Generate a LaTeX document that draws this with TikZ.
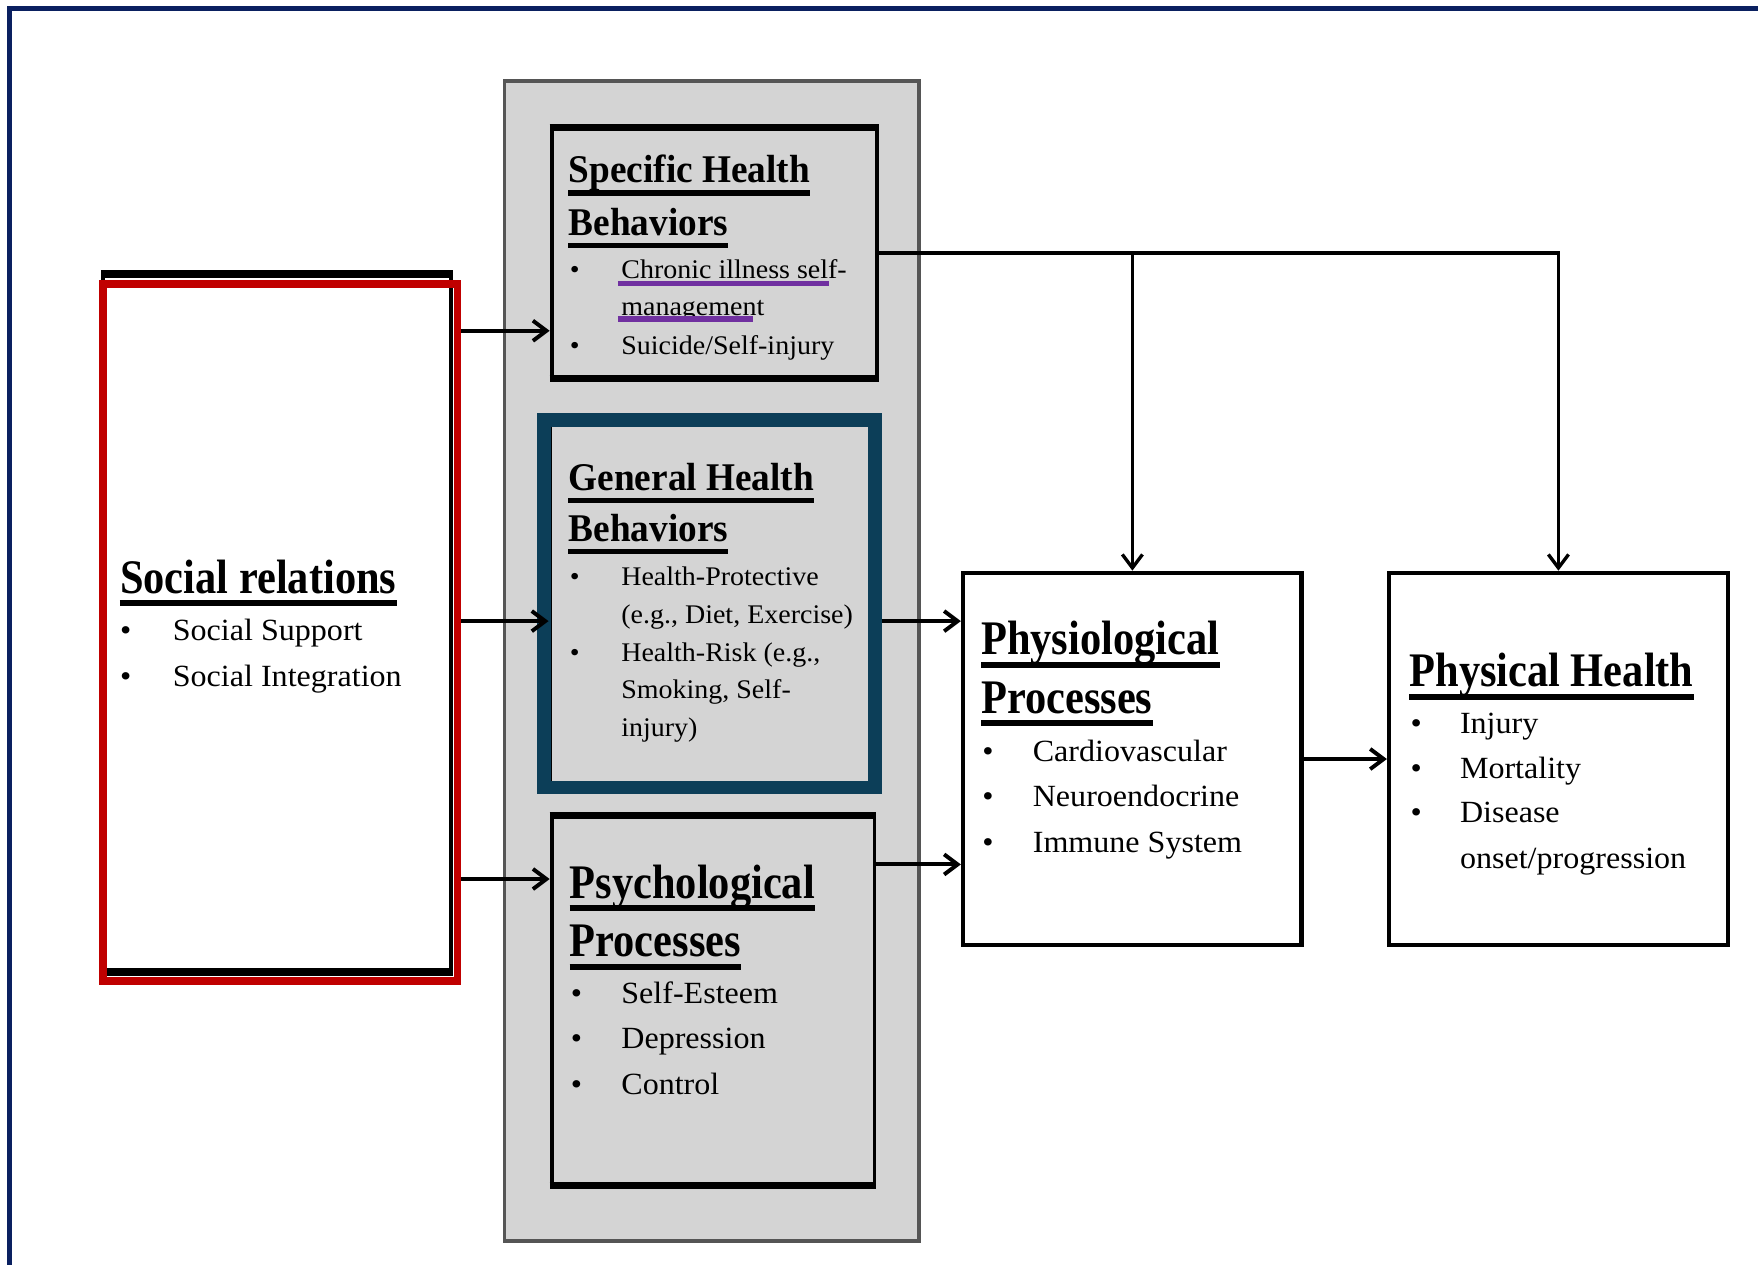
\documentclass[tikz,border=0pt]{standalone}
\usepackage{fontspec}
\setmainfont{Liberation Serif}[FakeStretch=1.04]
\newfontfamily\tfA{Liberation Serif}[FakeStretch=0.88]
\newfontfamily\tfB{Liberation Serif}[FakeStretch=0.95]
\usetikzlibrary{arrows.meta}
\definecolor{navy}{RGB}{10,32,96}
\definecolor{tealx}{RGB}{12,62,88}
\definecolor{redx}{RGB}{192,0,0}
\definecolor{purp}{RGB}{112,48,160}
\definecolor{gfill}{RGB}{212,212,212}
\definecolor{gline}{RGB}{85,85,85}
\tikzset{
 bigt/.style={anchor=base west, inner sep=0pt, font=\tfA\bfseries\fontsize{43}{43}\selectfont},
 midt/.style={anchor=base west, inner sep=0pt, font=\tfB\bfseries\fontsize{35}{35}\selectfont},
 bodyt/.style={anchor=base west, inner sep=0pt, font=\fontsize{27.5}{27.5}\selectfont},
 smallt/.style={anchor=base west, inner sep=0pt, font=\fontsize{24}{24}\selectfont},
 ul/.style={line width=5pt},
 box/.style={draw=black, line width=3.5pt, inner sep=0pt, rectangle},
 thick edge/.style={line width=6.5pt},
 arr/.style={line width=3.5pt, -{Straight Barb[length=12pt, width=18pt]}},
 arrthin/.style={line width=3pt, -{Straight Barb[length=12pt, width=18pt]}},
}
\newcommand{\myttl}[5]{%
 \node[#2] (#1) at (#3,#4) {#5};
 \draw[ul] ([yshift=-9pt]#1.base west) -- ([yshift=-9pt]#1.base east);}
\newcommand{\myblt}[6]{%
 \node[#2] (#1b) at (#3,#5) {\textbullet};
 \node[#2] (#1) at (#4,#5) {#6};}
\begin{document}
\begin{tikzpicture}[x=1pt,y=-1pt]
\useasboundingbox (0,0) rectangle (1568,1128);
\fill[white] (0,0) rectangle (1568,1128);
% frame
\draw[navy, line width=4.5pt] (8.5,1128) -- (8.5,7.5) -- (1568,7.5);

% group box
\node[box, draw=gline, fill=gfill, minimum width=370pt, minimum height=1035pt] (grp) at (635,589.5) {};

% social relations box
\node[box, fill=white, minimum width=310pt, minimum height=622.5pt] (soc) at (247,555.75) {};
\draw[thick edge] (90.25,244.5) -- (403.75,244.5);
\draw[thick edge] (90.25,867) -- (403.75,867);
\node[draw=redx, line width=7pt, inner sep=0pt, minimum width=316.5pt, minimum height=622pt] (red) at (249.75,564) {};

% specific
\node[box, fill=gfill, minimum width=290.5pt, minimum height=223.5pt] (spec) at (637.25,225.75) {};
\draw[thick edge] (490.25,114) -- (784.25,114);
\draw[thick edge] (490.25,337.5) -- (784.25,337.5);

% general
\node[box, fill=gfill, minimum width=286pt, minimum height=326pt] (genb) at (634,537) {};
\node[draw=tealx, line width=12pt, inner sep=0pt, minimum width=295.5pt, minimum height=328pt] (gen) at (632.75,538.5) {};

% psychological
\node[box, fill=gfill, minimum width=288pt, minimum height=330pt] (psy) at (636,892.5) {};
\draw[thick edge] (490.25,727.5) -- (781.75,727.5);
\draw[thick edge] (490.25,1057.5) -- (781.75,1057.5);

% physiological and physical
\node[box, line width=4pt, fill=white, minimum width=302pt, minimum height=332pt] (phy) at (1010,677) {};
\node[box, line width=4pt, fill=white, minimum width=302pt, minimum height=332pt] (ph) at (1390,677) {};

% connectors
\coordinate (ya) at (0,295);
\coordinate (yb) at (0,554);
\coordinate (yc) at (0,784);
\coordinate (yd) at (0,771);
\draw[arr] (red.east |- ya) -- (spec.west |- ya);
\draw[arr] (red.east |- yb) -- (genb.west |- yb);
\draw[arr] (red.east |- yc) -- (psy.west |- yc);
\draw[arr] (gen.east |- yb) -- (phy.west |- yb);
\draw[arr] (psy.east |- yd) -- (phy.west |- yd);
\draw[arr] (phy.east) -- (ph.west);
\draw[arrthin] (spec.east) -| (ph.north);
\draw[arrthin] (spec.east -| phy.north) -- (phy.north);

% texts: social
\myttl{s0}{bigt}{107}{529}{Social relations}
\myblt{s1}{bodyt}{107}{154}{571}{Social Support}
\myblt{s2}{bodyt}{107}{154}{612.5}{Social Integration}

% specific
\myttl{a0}{midt}{507}{163}{Specific Health}
\myttl{a1}{midt}{507}{210}{Behaviors}
\myblt{a2}{smallt}{508}{554}{248}{Chronic illness self-}
\node[smallt] (a3) at (554,281) {management};
\myblt{a4}{smallt}{508}{554}{316}{Suicide/Self-injury}
\draw[purp, line width=4.5pt] (551,253) -- (739,253);
\draw[purp, line width=4.5pt] (551,284.5) -- (672,284.5);

% general
\myttl{g0}{midt}{507}{437.5}{General Health}
\myttl{g1}{midt}{507}{483}{Behaviors}
\myblt{g2}{smallt}{508}{554}{522}{Health-Protective}
\node[smallt] (g3) at (554,556) {(e.g., Diet, Exercise)};
\myblt{g4}{smallt}{508}{554}{590}{Health-Risk (e.g.,}
\node[smallt] (g5) at (554,623) {Smoking, Self-};
\node[smallt] (g6) at (554,657) {injury)};

% psychological
\myttl{p0}{bigt}{508}{801}{Psychological}
\myttl{p1}{bigt}{508}{853.5}{Processes}
\myblt{p2}{bodyt}{509}{554}{895}{Self-Esteem}
\myblt{p3}{bodyt}{509}{554}{935.5}{Depression}
\myblt{p4}{bodyt}{509}{554}{976}{Control}

% physiological
\myttl{f0}{bigt}{875}{584}{Physiological}
\myttl{f1}{bigt}{875}{636}{Processes}
\myblt{f2}{bodyt}{876}{921}{679}{Cardiovascular}
\myblt{f3}{bodyt}{876}{921}{719}{Neuroendocrine}
\myblt{f4}{bodyt}{876}{921}{760}{Immune System}

% physical health
\myttl{h0}{bigt}{1257}{612.5}{Physical Health}
\myblt{h1}{bodyt}{1258}{1302}{654}{Injury}
\myblt{h2}{bodyt}{1258}{1302}{694}{Mortality}
\myblt{h3}{bodyt}{1258}{1302}{734}{Disease}
\node[bodyt] (h4) at (1302,774.5) {onset/progression};
\end{tikzpicture}
\end{document}
